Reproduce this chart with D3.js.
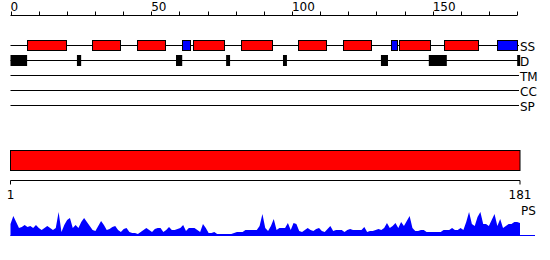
<!DOCTYPE html>
<html><head><meta charset="utf-8">
<script src="https://cdn.jsdelivr.net/npm/d3@7"></script>
<style>body{margin:0;background:#fff}svg{display:block}text{font-family:"DejaVu Sans",sans-serif;fill:#000}</style>
</head><body><svg id="c" width="550" height="260"></svg>
<script>
// ---- data ----
const topTicks = d3.range(0, 181, 10);
const topLabels = [0, 50, 100, 150];
const trackNames = ["SS", "D", "TM", "CC", "SP"];
const helices = [[6,20],[29,39],[45,55],[65,76],[82,93],[102,112],[118,128],[138,149],[154,166]];
const strands = [[61,64],[135,137],[173,180]];
const disorder = [[0,5.9],[23.6,25.1],[58.8,61],[76.6,78],[96.8,98.2],[131.6,134.1],[148.6,155],[180,181]];
const domainBar = [1, 181];
const bottomLabels = [1, 181];
const psValues = [12,20,14,8,9,11,9,10,8,11,8,6,8,10,8,6,8,24,4,11,
  16,18,8,11,8,14,18,14,10,6,5,10,15,11,6,7,9,10,6,4,
  7,8,4,3,3,2,4,6,8,6,4,7,8,8,4,6,9,6,6,7,
  8,11,5,8,8,8,6,4,12,8,3,3,4,2,2,2,2,2,2,3,
  4,4,4,6,6,6,6,6,10,22,8,5,10,17,6,8,8,8,13,6,
  13,12,5,4,6,8,6,5,7,8,5,4,7,10,5,6,6,6,4,6,
  7,6,6,6,6,9,4,5,5,6,7,6,8,13,8,10,13,8,14,10,
  15,20,8,5,5,6,6,4,4,4,4,4,4,6,6,6,8,6,6,8,
  6,14,24,12,10,19,24,12,12,10,16,22,10,17,8,10,12,12,14,14,13];

// ---- drawing ----
const svg = d3.select("#c");
const x = d3.scaleLinear().domain([0, 181]).range([10.5, 520]);
const xb = d3.scaleLinear().domain([1, 181]).range([10.5, 520]);

// top axis
const gTop = svg.append("g").attr("transform", "translate(0,15.5)");
gTop.append("line").attr("x1", x(0)).attr("x2", x(180)).attr("stroke", "#000");
gTop.selectAll("line.t").data(topTicks).join("line").attr("class","t")
  .attr("x1", d => Math.round(x(d)) + 0.5).attr("x2", d => Math.round(x(d)) + 0.5)
  .attr("y1", -4).attr("y2", 0).attr("stroke", "#000");
gTop.selectAll("text").data(topLabels).join("text")
  .attr("x", d => x(d)).attr("y", -5).attr("font-size", 12).text(d => d);

// track lines
const rowY = d3.scalePoint().domain(trackNames).range([45.5, 105.5]);
svg.selectAll("line.track").data(trackNames).join("line").attr("class","track")
  .attr("x1", x(0)).attr("x2", 519).attr("y1", d => rowY(d)).attr("y2", d => rowY(d))
  .attr("stroke", "#000");
svg.selectAll("text.track").data(trackNames).join("text").attr("class","track")
  .attr("x", 520).attr("y", d => rowY(d) + 5).attr("font-size", 12).text(d => d);

// SS boxes
const ssY = rowY("SS");
svg.selectAll("rect.h").data(helices).join("rect").attr("class","h")
  .attr("x", d => Math.round(x(d[0])) + 0.5).attr("width", d => Math.round(x(d[1]) - x(d[0])))
  .attr("y", ssY - 5).attr("height", 10).attr("fill", "#ff0000").attr("stroke", "#000");
svg.selectAll("rect.s").data(strands).join("rect").attr("class","s")
  .attr("x", d => Math.round(x(d[0])) + 0.5).attr("width", d => Math.round(x(d[1]) - x(d[0])))
  .attr("y", ssY - 5).attr("height", 10).attr("fill", "#0000ff").attr("stroke", "#000");

// disorder boxes
const dY = rowY("D");
svg.selectAll("rect.d").data(disorder).join("rect").attr("class","d")
  .attr("x", d => x(d[0])).attr("width", d => Math.max(3, x(d[1]) - x(d[0])))
  .attr("y", dY - 5.5).attr("height", 11).attr("fill", "#000");

// domain bar
svg.append("rect").datum(domainBar)
  .attr("x", d => xb(d[0])).attr("width", d => xb(d[1]) - xb(d[0]))
  .attr("y", 150.5).attr("height", 20).attr("fill", "#ff0000").attr("stroke", "#000");

// bottom axis
const gB = svg.append("g").attr("transform", "translate(0,180.5)");
gB.append("line").attr("x1", xb(1)).attr("x2", xb(181)).attr("stroke", "#000");
gB.selectAll("line.t").data(bottomLabels).join("line").attr("class","t")
  .attr("x1", d => xb(d)).attr("x2", d => xb(d)).attr("y1", 0).attr("y2", 4).attr("stroke", "#000");
gB.selectAll("text").data(bottomLabels).join("text")
  .attr("x", d => xb(d)).attr("y", 18.5).attr("text-anchor", "middle").attr("font-size", 12).text(d => d);

// PS profile
const y = d3.scaleLinear().domain([0, 24]).range([236, 212]);
const area = d3.area().x((d, i) => xb(i + 1)).y0(y(0)).y1(d => y(d));
svg.append("path").datum(psValues).attr("d", area).attr("fill", "#0000ff");
svg.append("line").attr("x1", xb(1)).attr("x2", 535).attr("y1", 235.5).attr("y2", 235.5).attr("stroke", "#0000ff");
svg.append("text").attr("x", 521).attr("y", 215).attr("font-size", 12).text("PS");
</script></body></html>
